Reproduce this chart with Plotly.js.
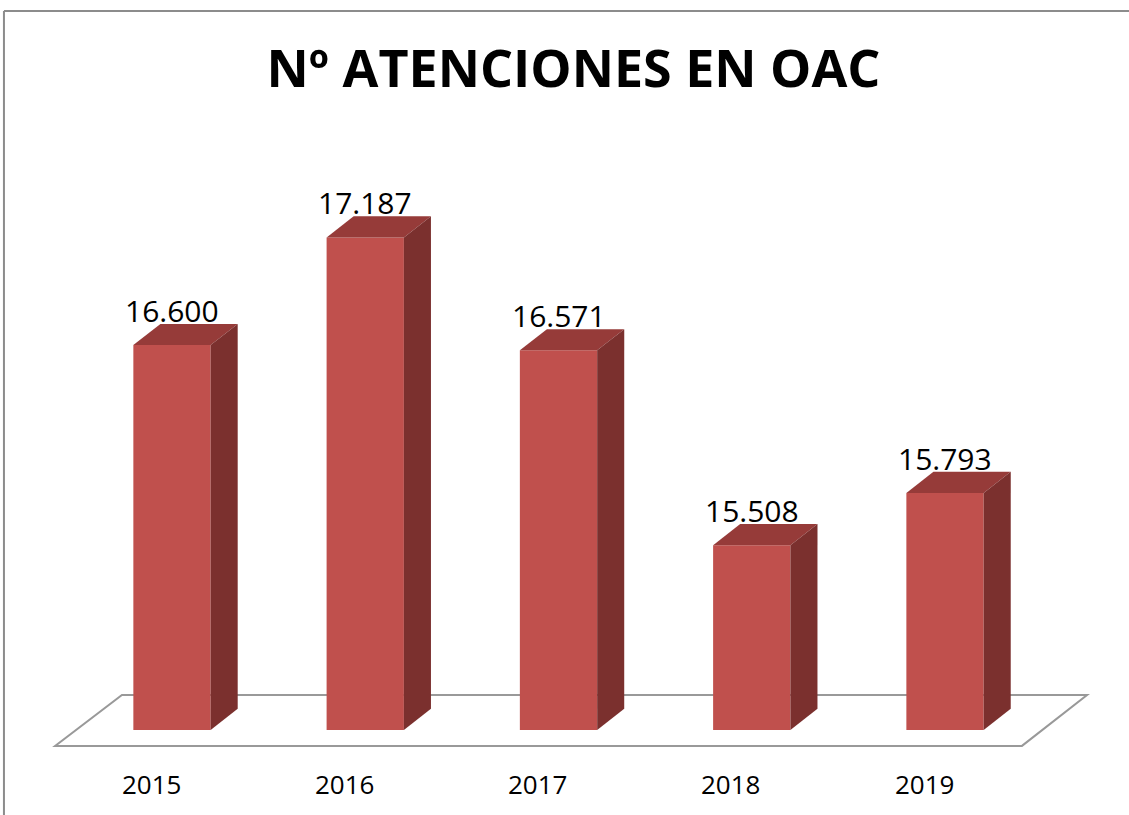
<!DOCTYPE html>
<html>
<head>
<meta charset="utf-8">
<script src="https://cdn.plot.ly/plotly-3.0.1.min.js"></script>
<style>
  body { margin: 0; background: #fff; }
  #chart { width: 1129px; height: 815px; }
</style>
</head>
<body>
<div id="chart"></div>
<script>
// DATA
const years = ["2015", "2016", "2017", "2018", "2019"];
const atenciones = [16600, 17187, 16571, 15508, 15793];
const valueLabels = ["16.600", "17.187", "16.571", "15.508", "15.793"];

// fake 3d look
const base = 14500;
const barW = 0.4;
const depthX = 0.14;   // x units
const depthY = 115;    // y units

const front = "#c0504d";
const topCol = "#963b39";
const sideCol = "#7b302e";

const xs = years.map((y, i) => i);

const shapes = [];

// floor
shapes.push({
  type: "path", xref: "x", yref: "y", layer: "below",
  path: "M -0.605 14413 L 4.398 14413 L 4.735 14691 L -0.259 14691 Z",
  fillcolor: "#ffffff",
  line: {color: "#999999", width: 2}
});

for (let i = 0; i < xs.length; i++) {
  const l = xs[i] - barW / 2;
  const r = xs[i] + barW / 2;
  const v = atenciones[i];
  // top face
  shapes.push({
    type: "path", xref: "x", yref: "y",
    path: `M ${l} ${v} L ${r} ${v} L ${r + depthX} ${v + depthY} L ${l + depthX} ${v + depthY} Z`,
    fillcolor: topCol, line: {width: 0}
  });
  // side face
  shapes.push({
    type: "path", xref: "x", yref: "y",
    path: `M ${r} ${base} L ${r} ${v} L ${r + depthX} ${v + depthY} L ${r + depthX} ${base + depthY} Z`,
    fillcolor: sideCol, line: {width: 0}
  });
}

// frame lines (top and left)
shapes.push({type: "line", xref: "paper", yref: "paper", x0: 0.0035, x1: 1, y0: 0.9865, y1: 0.9865,
  line: {color: "#8c8c8c", width: 2}});
shapes.push({type: "line", xref: "paper", yref: "paper", x0: 0.0035, x1: 0.0035, y0: 0, y1: 0.9865,
  line: {color: "#8c8c8c", width: 2}});

const annotations = [];
for (let i = 0; i < xs.length; i++) {
  annotations.push({
    x: xs[i], y: atenciones[i] + depthY, xref: "x", yref: "y",
    text: valueLabels[i], showarrow: false, yanchor: "bottom", yshift: -9,
    font: {family: "Open Sans", size: 30, color: "#000"}
  });
  annotations.push({
    x: xs[i], y: 0.038, xref: "x", yref: "paper",
    text: years[i], showarrow: false, yanchor: "middle", xshift: -21,
    font: {family: "Open Sans", size: 26, color: "#000"}
  });
}

const trace = {
  type: "bar",
  x: xs,
  y: atenciones.map(v => v - base),
  base: atenciones.map(() => base),
  width: barW,
  marker: {color: front, line: {width: 0}},
  hoverinfo: "skip"
};

const layout = {
  width: 1129, height: 815,
  margin: {l: 0, r: 0, t: 0, b: 0},
  paper_bgcolor: "#fff", plot_bgcolor: "#fff",
  showlegend: false,
  title: {
    text: "<b>Nº ATENCIONES EN OAC</b>",
    x: 0.508, xanchor: "center",
    y: 0.915, yref: "container", yanchor: "middle",
    font: {family: "Open Sans", size: 52, color: "#000"}
  },
  xaxis: {range: [-0.89, 4.952], visible: false, fixedrange: true},
  yaxis: {range: [14036, 18482], visible: false, fixedrange: true},
  shapes: shapes,
  annotations: annotations
};

Plotly.newPlot("chart", [trace], layout, {displayModeBar: false, staticPlot: true});
</script>
</body>
</html>
